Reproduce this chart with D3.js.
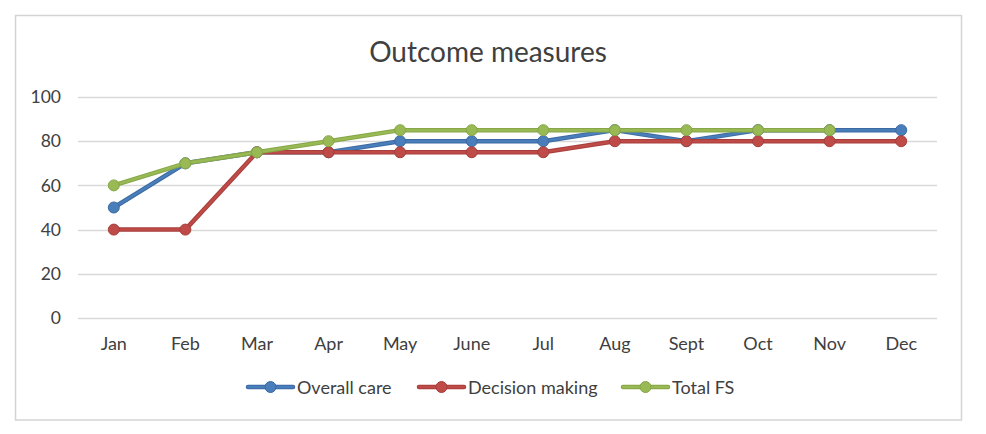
<!DOCTYPE html>
<html><head><meta charset="utf-8">
<script src="https://cdn.jsdelivr.net/npm/d3@7"></script>
<style>body{margin:0;background:#fff;font-family:Lato,"Open Sans",sans-serif;}</style>
</head><body>
<svg id="c" width="986" height="434"></svg>
<script>
const months = ["Jan","Feb","Mar","Apr","May","June","Jul","Aug","Sept","Oct","Nov","Dec"];
const overallCare = [50,70,75,75,80,80,80,85,80,85,85,85];
const decisionMaking = [40,40,75,75,75,75,75,80,80,80,80,80];
const totalFS = [60,70,75,80,85,85,85,85,85,85,85,null];
const yTicks = [0,20,40,60,80,100];
const seriesNames = ["Overall care","Decision making","Total FS"];
const seriesColors = ["#4a7ebb","#be4b48","#98b954"];
const seriesStroke = ["#3b6aa3","#a83e3b","#86a647"];

const series = [overallCare, decisionMaking, totalFS].map((v,i)=>({name:seriesNames[i],color:seriesColors[i],dark:seriesStroke[i],values:v}));

const svg = d3.select("#c");
svg.append("rect").attr("x",15.5).attr("y",15.5).attr("width",946).attr("height",404.5)
  .attr("fill","#fff").attr("stroke","#d4d4d4").attr("stroke-width",1.5);

svg.append("text").attr("x",488).attr("y",62).attr("text-anchor","middle")
  .attr("font-size",28).attr("fill","#404040").text("Outcome measures");

const x = d3.scaleBand().domain(months).range([78,937]);
const y = d3.scaleLinear().domain([0,100]).range([318,97]);

const grid = svg.append("g");
grid.selectAll("line").data(yTicks).join("line")
  .attr("x1",78).attr("x2",937).attr("y1",d=>Math.round(y(d))+0.5).attr("y2",d=>Math.round(y(d))+0.5)
  .attr("stroke","#d9d9d9").attr("stroke-width",1.3);

const yAxis = svg.append("g").attr("transform","translate(78,0)")
  .call(d3.axisLeft(y).tickValues(yTicks).tickSize(0).tickPadding(17));
yAxis.select(".domain").remove();
yAxis.selectAll("text").attr("font-size",17.5).attr("fill","#404040").attr("font-family","Lato,sans-serif");

const xAxis = svg.append("g").attr("transform","translate(0,318)")
  .call(d3.axisBottom(x).tickSize(0).tickPadding(19));
xAxis.select(".domain").remove();
xAxis.selectAll("text").attr("font-size",18).attr("fill","#404040").attr("font-family","Lato,sans-serif");

const cx = m => x(m)+x.bandwidth()/2;
const line = d3.line().defined(d=>d.v!=null).x(d=>cx(d.m)).y(d=>y(d.v));

series.forEach(s=>{
  const pts = s.values.map((v,i)=>({m:months[i],v}));
  const g = svg.append("g");
  g.append("path").datum(pts).attr("d",line).attr("fill","none")
    .attr("stroke",s.dark).attr("stroke-width",4.5).attr("stroke-linejoin","round").attr("stroke-linecap","round");
  g.append("path").datum(pts).attr("d",line).attr("fill","none")
    .attr("stroke",s.color).attr("stroke-width",2.5).attr("stroke-linejoin","round").attr("stroke-linecap","round");
  g.selectAll("circle").data(pts.filter(d=>d.v!=null)).join("circle")
    .attr("cx",d=>cx(d.m)).attr("cy",d=>y(d.v)).attr("r",5.5)
    .attr("fill",s.color).attr("stroke",s.dark).attr("stroke-width",1);
});

const legX = [248,419,623];
const leg = svg.append("g");
series.forEach((s,i)=>{
  const g = leg.append("g").attr("transform",`translate(${legX[i]},387)`);
  g.append("line").attr("x1",0).attr("x2",45).attr("y1",0).attr("y2",0)
    .attr("stroke",s.dark).attr("stroke-width",4.5).attr("stroke-linecap","round");
  g.append("line").attr("x1",0).attr("x2",45).attr("y1",0).attr("y2",0)
    .attr("stroke",s.color).attr("stroke-width",2.5).attr("stroke-linecap","round");
  g.append("circle").attr("cx",22.5).attr("cy",0).attr("r",5.5).attr("fill",s.color).attr("stroke",s.dark);
  g.append("text").attr("x",49).attr("y",6.5).attr("font-size",18).attr("fill","#404040").text(s.name);
});
</script>
</body></html>
